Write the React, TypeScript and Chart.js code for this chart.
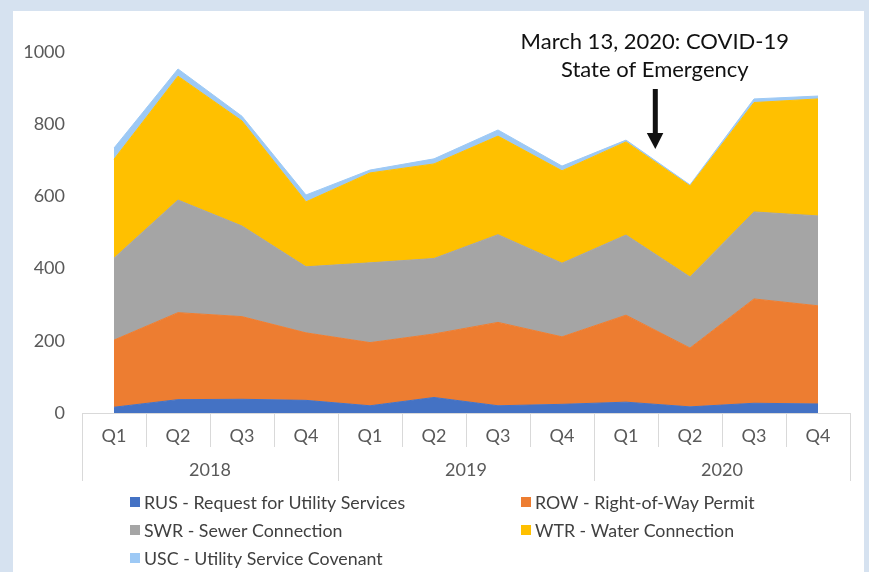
import React, { useEffect, useRef } from "react";
import { Chart, registerables } from "chart.js";

Chart.register(...registerables);

const quarters = ["Q1", "Q2", "Q3", "Q4", "Q1", "Q2", "Q3", "Q4", "Q1", "Q2", "Q3", "Q4"];
const years = ["2018", "2019", "2020"];

const rusValues = [16, 37, 38, 35, 20, 43, 20, 24, 30, 17, 27, 25];
const rowValues = [186, 241, 229, 187, 175, 176, 231, 187, 241, 163, 289, 272];
const swrValues = [227, 312, 251, 183, 221, 209, 243, 204, 222, 197, 241, 249];
const wtrValues = [274, 343, 291, 180, 249, 262, 273, 256, 258, 252, 303, 324];
const uscValues = [31, 20, 13, 19, 8, 14, 17, 13, 5, 3, 10, 8];

const seriesNames = [
  "RUS - Request for Utility Services",
  "ROW - Right-of-Way Permit",
  "SWR - Sewer Connection",
  "WTR - Water Connection",
  "USC - Utility Service Covenant",
];
const seriesColors = ["#4472C4", "#ED7D31", "#A5A5A5", "#FFC000", "#9DC9F5"];

const annotationLines = ["March 13, 2020: COVID-19", "State of Emergency"];
const annotationIndex = 8.45;

const FONT = "Lato, 'Open Sans', sans-serif";

const customPlugin = {
  id: "customAxisLegend",
  afterDraw(chart: any) {
    const ctx = chart.ctx;
    const xs = chart.scales.x;
    const area = chart.chartArea;
    const step = xs.getPixelForValue(1) - xs.getPixelForValue(0);
    const left = xs.getPixelForValue(0) - step / 2;
    const right = left + step * quarters.length;
    const bottom = area.bottom;
    ctx.save();
    // axis line and dividers
    ctx.strokeStyle = "#D9D9D9";
    ctx.lineWidth = 1;
    ctx.beginPath();
    ctx.moveTo(left, Math.round(bottom) + 0.5);
    ctx.lineTo(right, Math.round(bottom) + 0.5);
    for (let i = 0; i <= quarters.length; i++) {
      const xb = Math.round(left + i * step) + 0.5;
      ctx.moveTo(xb, bottom);
      ctx.lineTo(xb, bottom + (i % 4 === 0 ? 68 : 34));
    }
    ctx.stroke();
    // labels
    ctx.fillStyle = "#595959";
    ctx.font = `18px ${FONT}`;
    ctx.textAlign = "center";
    ctx.textBaseline = "middle";
    quarters.forEach((q, i) => {
      ctx.fillText(q, xs.getPixelForValue(i), bottom + 23);
    });
    years.forEach((y, i) => {
      ctx.fillText(y, left + (i * 4 + 2) * step, bottom + 57);
    });

    // annotation
    const ax = xs.getPixelForValue(8) + (annotationIndex - 8) * step;
    ctx.fillStyle = "#111111";
    ctx.font = `22px ${FONT}`;
    ctx.fillText(annotationLines[0], ax, area.top - 10);
    ctx.fillText(annotationLines[1], ax, area.top + 18);
    ctx.fillRect(ax - 2, area.top + 37, 5, 46);
    ctx.beginPath();
    ctx.moveTo(ax - 8, area.top + 81);
    ctx.lineTo(ax + 8.5, area.top + 81);
    ctx.lineTo(ax + 0.5, area.top + 97);
    ctx.closePath();
    ctx.fill();

    // legend
    const colX = [130, 521];
    const rowY = [502, 530, 558];
    ctx.font = `17.8px ${FONT}`;
    ctx.textAlign = "left";
    seriesNames.forEach((name, i) => {
      const cx = colX[i % 2];
      const cy = rowY[Math.floor(i / 2)];
      ctx.fillStyle = seriesColors[i];
      ctx.fillRect(cx, cy - 5, 10, 10);
      ctx.fillStyle = "#404040";
      ctx.fillText(name, cx + 14, cy + 1);
    });
    ctx.restore();
  },
};

export default function App() {
  const canvasRef = useRef<HTMLCanvasElement | null>(null);

  useEffect(() => {
    const canvas = canvasRef.current;
    if (!canvas) return;
    const values = [rusValues, rowValues, swrValues, wtrValues, uscValues];
    const chart = new Chart(canvas, {
      type: "line",
      data: {
        labels: quarters.map((q, i) => `${q} ${years[Math.floor(i / 4)]}`),
        datasets: values.map((v, i) => ({
          label: seriesNames[i],
          data: v,
          backgroundColor: seriesColors[i],
          borderColor: seriesColors[i],
          borderWidth: 1,
          pointRadius: 0,
          tension: 0,
          fill: i === 0 ? "origin" : "-1",
        })),
      },
      options: {
        responsive: false,
        animation: false,
        layout: { padding: { top: 52, bottom: 159, right: 19, left: 0 } },
        plugins: { legend: { display: false }, tooltip: { enabled: false } },
        scales: {
          x: {
            type: "category",
            offset: true,
            grid: { display: false },
            border: { display: false },
            ticks: { display: false },
            afterFit(scale: any) {
              scale.height = 0;
            },
          },
          y: {
            stacked: true,
            min: 0,
            max: 1000,
            grid: { display: false, drawTicks: false },
            border: { display: false },
            ticks: {
              stepSize: 200,
              padding: 17,
              color: "#595959",
              font: { family: FONT, size: 18 },
              callback: (v: any) => String(v),
            },
            afterFit(scale: any) {
              scale.width = 82;
            },
          },
        },
      },
      plugins: [customPlugin],
    });
    return () => chart.destroy();
  }, []);

  return (
    <div
      style={{
        position: "fixed",
        left: 0,
        top: 0,
        width: 869,
        height: 572,
        background: "#D6E2F0",
        overflow: "hidden",
      }}
    >
      <div
        style={{
          position: "absolute",
          left: 13,
          top: 11,
          width: 851,
          height: 561,
          background: "#FFFFFF",
        }}
      />
      <canvas
        ref={canvasRef}
        width={869}
        height={572}
        style={{ position: "absolute", left: 0, top: 0, width: 869, height: 572 }}
      />
    </div>
  );
}
